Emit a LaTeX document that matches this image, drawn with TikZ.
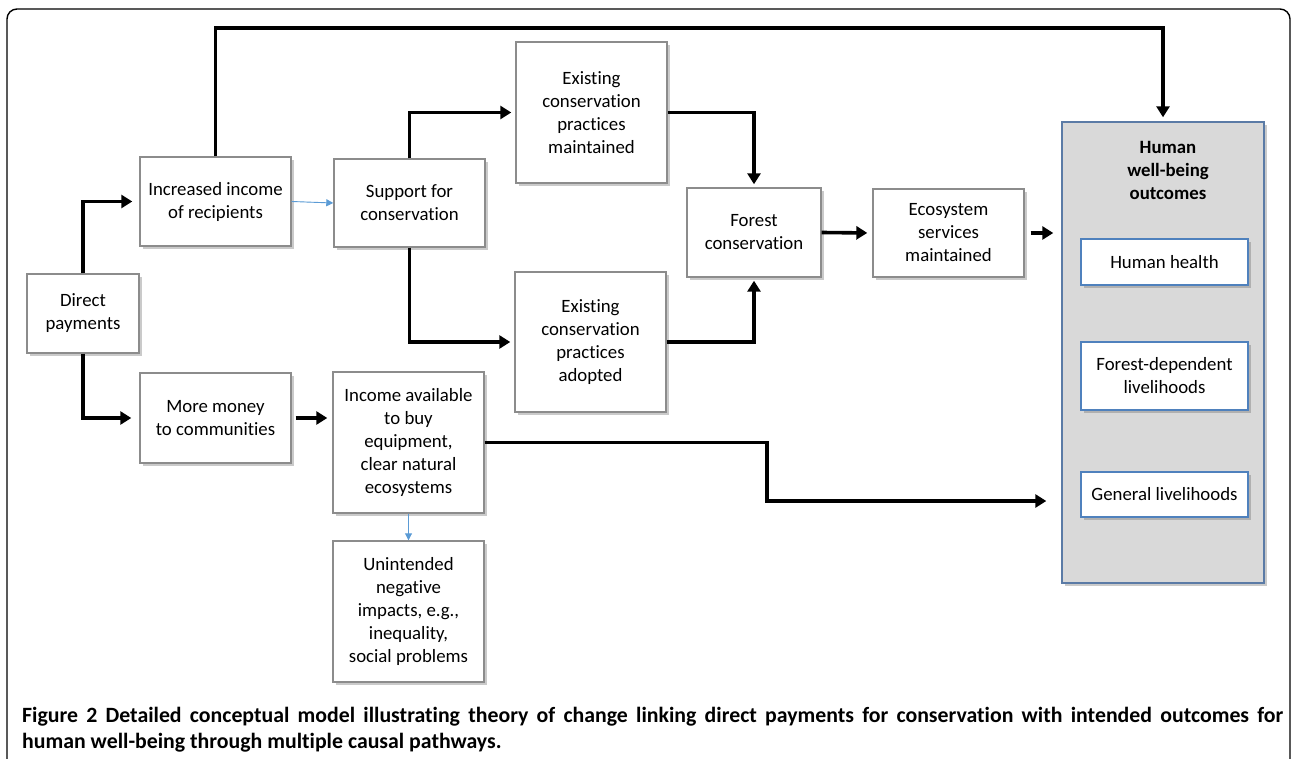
\documentclass[tikz,border=0pt]{standalone}
\usepackage{fontspec}
\setmainfont[Ligatures=NoCommon]{Carlito}
\usetikzlibrary{arrows.meta,shadows,calc}
\definecolor{boxline}{HTML}{8C8C8C}
\definecolor{blueline}{HTML}{4F81BD}
\definecolor{hbline}{HTML}{5B7BA6}
\definecolor{hbfill}{HTML}{D9D9D9}
\definecolor{thinblue}{HTML}{5B9BD5}
\tikzset{
  pbox/.style={draw=boxline, line width=1.4pt, fill=white, align=center, inner sep=0pt,
    font=\fontsize{18.8}{23}\selectfont,
    drop shadow={shadow xshift=3pt, shadow yshift=-3pt, opacity=0.35, fill=black!60}},
  obox/.style={pbox, draw=blueline},
  bigarrow/.style={line width=3.6pt, -{Triangle[length=11pt,width=13pt]}},
  thinarrow/.style={draw=thinblue, line width=0.9pt, -{Triangle[length=7pt,width=7pt]}, fill=thinblue},
}
\begin{document}
\begin{tikzpicture}[x=1pt,y=-1pt]
\useasboundingbox (0,0) rectangle (1292,759);
\begin{scope}
\clip (0,0) rectangle (1292,759);
\draw[line width=1.4pt, rounded corners=10pt] (7,9) rectangle (1290,790);
\end{scope}

% big outcome box
\node[draw=hbline, line width=1.4pt, fill=hbfill, minimum width=202pt, minimum height=461pt, inner sep=0pt,
  drop shadow={shadow xshift=3pt, shadow yshift=-3pt, opacity=0.35, fill=black!60}] (human) at (1163,352.5) {};
\node[font=\fontsize{18.8}{23}\selectfont\bfseries, align=center] (htitle) at (1168,170) {Human\\well-being\\outcomes};

\node[obox, minimum width=167pt, minimum height=46pt] (health) at (1164.5,262) {Human health};
\node[obox, minimum width=167pt, minimum height=68pt] (fdl) at (1164.5,376) {Forest-dependent\\livelihoods};
\node[obox, minimum width=167pt, minimum height=45pt] (gl) at (1164.5,494.5) {General livelihoods};

\node[pbox, minimum width=112pt, minimum height=79pt] (direct) at (83,313.5) {Direct\\payments};
\node[pbox, minimum width=151pt, minimum height=89pt] (incr) at (215.5,201.5) {Increased income\\of recipients};
\node[pbox, minimum width=151pt, minimum height=88pt] (support) at (409.5,203) {Support for\\conservation};
\node[pbox, minimum width=151pt, minimum height=141pt] (exm) at (591.5,112.5) {Existing\\conservation\\practices\\maintained};
\node[pbox, minimum width=151pt, minimum height=140pt] (exa) at (590.5,342) {Existing\\conservation\\practices\\adopted};
\node[pbox, minimum width=134pt, minimum height=89pt] (forest) at (754,232.5) {Forest\\conservation};
\node[pbox, minimum width=151pt, minimum height=88pt] (eco) at (948.5,233) {Ecosystem\\services\\maintained};
\node[pbox, minimum width=151pt, minimum height=90pt] (money) at (215.5,418) {More money\\to communities};
\node[pbox, minimum width=151pt, minimum height=141pt] (income) at (408.5,442.5) {Income available\\to buy\\equipment,\\clear natural\\ecosystems};
\node[pbox, minimum width=151pt, minimum height=141pt] (unint) at (408.5,611.5) {Unintended\\negative\\impacts, e.g.,\\inequality,\\social problems};

% connectors
\coordinate (topy) at (0,28);
\coordinate (bend) at (767,501);
\draw[bigarrow, shorten >=7pt] (direct.north) |- (incr.west);
\draw[bigarrow, shorten >=8pt] (direct.south) |- (money.west);
\draw[bigarrow, shorten >=4pt] (incr.north) -- (incr.north |- topy) -| (human.north);
\draw[thinarrow] (incr.east) -- (support.west);
\draw[bigarrow, shorten >=4pt] (support.north) |- (exm.west);
\draw[bigarrow, shorten >=4pt] (support.south) |- (exa.west);
\draw[bigarrow, shorten >=3pt] (exm.east) -| (forest.north);
\draw[bigarrow, shorten >=3pt] (exa.east) -| (forest.south);
\draw[bigarrow, shorten >=5pt] (forest.east) -- (eco.west);
\draw[bigarrow, shorten <=6pt, shorten >=8pt] (eco.east) -- (eco.east -| human.west);
\draw[bigarrow, shorten <=4pt, shorten >=5pt] (money.east) -- (income.west |- money.east);
\draw[bigarrow, shorten >=15pt] (income.east) -| (bend) -- (bend -| human.west);
\draw[thinarrow] (income.south) -- (unint.north);

% caption
\node[anchor=north west, inner sep=0pt, align=left,
  font=\fontsize{21.8}{26}\selectfont\bfseries] (caption) at (22,707)
  {\makebox[1261pt][s]{Figure 2 Detailed conceptual model illustrating theory of change linking direct payments for conservation with intended outcomes for}\\human well-being through multiple causal pathways.};
\end{tikzpicture}
\end{document}
